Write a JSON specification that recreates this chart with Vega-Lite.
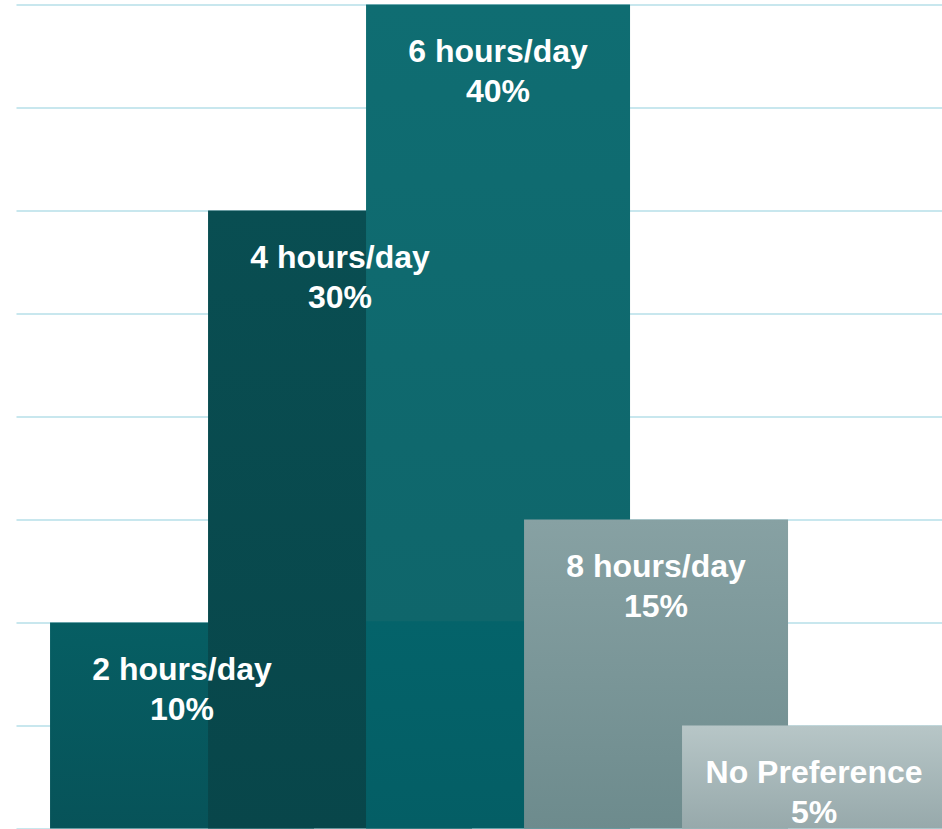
{
  "$schema": "https://vega.github.io/schema/vega-lite/v6.json",
  "autosize": {"type": "none"},
  "padding": {"left": 16, "top": 4.5, "right": 0, "bottom": 1},
  "width": 926,
  "height": 824,
  "background": "#ffffff",
  "config": {"view": {"stroke": null}},
  "data": {
    "values": [
      {"option": "2 hours/day", "share": 10, "pct": "10%"},
      {"option": "4 hours/day", "share": 30, "pct": "30%"},
      {"option": "6 hours/day", "share": 40, "pct": "40%"},
      {"option": "8 hours/day", "share": 15, "pct": "15%"},
      {"option": "No Preference", "share": 5, "pct": "5%"}
    ]
  },
  "encoding": {
    "x": {
      "field": "option",
      "type": "nominal",
      "sort": ["2 hours/day", "4 hours/day", "6 hours/day", "8 hours/day", "No Preference"],
      "scale": {"domain": ["2 hours/day", "4 hours/day", "6 hours/day", "8 hours/day", "No Preference"], "paddingInner": 0, "paddingOuter": 0.4304, "align": 0.64},
      "axis": null
    },
    "y": {
      "field": "share",
      "type": "quantitative",
      "scale": {"domain": [0, 40], "nice": false},
      "axis": {
        "values": [0, 5, 10, 15, 20, 25, 30, 35, 40],
        "labels": false,
        "ticks": false,
        "domain": false,
        "title": null,
        "grid": true,
        "gridColor": "#c8e7ee",
        "gridWidth": 2
      }
    }
  },
  "layer": [
    {
      "transform": [{"filter": "datum.option === '2 hours/day'"}],
      "mark": {"type": "bar", "width": {"band": 1.6709}, "color": {"gradient": "linear", "x1": 0, "y1": 0, "x2": 0, "y2": 1, "stops": [{"offset": 0, "color": "#065e63"}, {"offset": 1, "color": "#075359"}]}}
    },
    {
      "transform": [{"filter": "datum.option === '4 hours/day'"}],
      "mark": {"type": "bar", "width": {"band": 1.6709}, "color": {"gradient": "linear", "x1": 0, "y1": 0, "x2": 0, "y2": 1, "stops": [{"offset": 0, "color": "#094e52"}, {"offset": 1, "color": "#08464a"}]}}
    },
    {
      "transform": [{"filter": "datum.option === '6 hours/day'"}],
      "mark": {"type": "bar", "width": {"band": 1.6709}, "color": {"gradient": "linear", "x1": 0, "y1": 0, "x2": 0, "y2": 1, "stops": [{"offset": 0, "color": "#0f6d72"}, {"offset": 0.748, "color": "#0f666b"}, {"offset": 0.749, "color": "#04636a"}, {"offset": 1, "color": "#045e65"}]}}
    },
    {
      "transform": [{"filter": "datum.option === '8 hours/day'"}],
      "mark": {"type": "bar", "width": {"band": 1.6709}, "color": {"gradient": "linear", "x1": 0, "y1": 0, "x2": 0, "y2": 1, "stops": [{"offset": 0, "color": "#87a1a3"}, {"offset": 1, "color": "#6d8b8d"}]}}
    },
    {
      "transform": [{"filter": "datum.option === 'No Preference'"}],
      "mark": {"type": "bar", "width": {"band": 1.6709}, "color": {"gradient": "linear", "x1": 0, "y1": 0, "x2": 0, "y2": 1, "stops": [{"offset": 0, "color": "#b7c6c7"}, {"offset": 1, "color": "#97a9ab"}]}}
    },
    {
      "mark": {"type": "text", "font": "Liberation Sans", "fontWeight": "bold", "fontSize": 32, "color": "#ffffff", "baseline": "alphabetic", "align": "center", "dy": 57},
      "encoding": {"text": {"field": "option"}}
    },
    {
      "mark": {"type": "text", "font": "Liberation Sans", "fontWeight": "bold", "fontSize": 32, "color": "#ffffff", "baseline": "alphabetic", "align": "center", "dy": 97},
      "encoding": {"text": {"field": "pct"}}
    }
  ]
}
